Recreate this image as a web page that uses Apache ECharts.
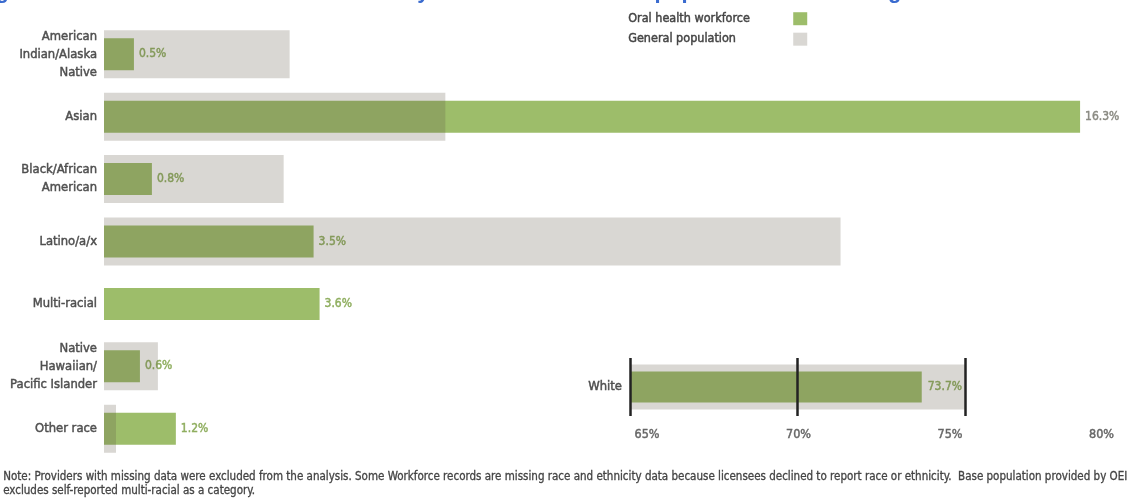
<!DOCTYPE html>
<html>
<head>
<meta charset="utf-8">
<script src="https://cdn.jsdelivr.net/npm/echarts@6/dist/echarts.min.js"></script>
<style>
  html, body { margin: 0; padding: 0; background: #fff; }
  #chart { width: 1133px; height: 502px; }
</style>
</head>
<body>
<div id="chart"></div>
<script>
// Race groups (top to bottom) and shares in percent
const categories = [
  'American\nIndian/Alaska\nNative',
  'Asian',
  'Black/African\nAmerican',
  'Latino/a/x',
  'Multi-racial',
  'Native\nHawaiian/\nPacific Islander',
  'Other race'
];
const workforce = [0.5, 16.3, 0.8, 3.5, 3.6, 0.6, 1.2];
const population = [3.1, 5.7, 3.0, 12.3, 0, 0.9, 0.2];

// White is shown on its own zoomed scale
const whiteCategory = ['White'];
const whiteWorkforce = [73.7];
const whitePopulation = [75.0];
const whiteTicks = [65, 70, 75, 80];
const whiteGuides = [65, 70, 75];

const titleText = "Figure 5. Licensed oral health workforce by race relative to state population across Oregon";
const noteText = 'Note: Providers with missing data were excluded from the analysis. Some Workforce records are missing race and ethnicity data because licensees declined to report race or ethnicity.  Base population provided by OEI\nexcludes self-reported multi-racial as a category.';

const GREEN = '#9dbd6a';
const GREEN_TEXT = '#8fae5f';
const GRAY_OVER = 'rgba(95,88,72,0.24)';
const NARROW = '"Liberation Sans Narrow", "DejaVu Sans Condensed", sans-serif';

// a thin outline in the text colour gives the narrow face a medium weight
const medium = (color, size) => ({
  fontFamily: NARROW, fontSize: size, color: color,
  textBorderColor: color, textBorderWidth: 0.45
});

const chart = echarts.init(document.getElementById('chart'));

const pct = v => v.toFixed(1) + '%';

chart.setOption({
  animation: false,
  backgroundColor: '#fff',
  title: {
    text: titleText,
    left: -24,
    top: -19,
    padding: 0,
    textStyle: { fontFamily: '"Liberation Sans", Arial, sans-serif', fontSize: 22, fontWeight: 'bold', color: '#3a6bcf' }
  },
  legend: {
    data: ['Oral health workforce', 'General population'],
    orient: 'vertical',
    left: 628,
    top: 12,
    align: 'right',
    icon: 'rect',
    itemWidth: 14,
    itemHeight: 13,
    itemGap: 7,
    padding: 0,
    selectedMode: false,
    formatter: '{n|{name}}',
    textStyle: Object.assign(medium('#444', 12.5), {
      rich: { n: Object.assign(medium('#444', 12.5), { width: 160, align: 'left' }) }
    })
  },
  graphic: [{
    type: 'text',
    left: 3,
    top: 470,
    style: {
      text: noteText,
      font: '11.5px ' + NARROW,
      fill: '#444',
      stroke: '#444',
      lineWidth: 0.3,
      lineHeight: 14
    }
  }],
  grid: [
    { left: 104, right: 11, top: 23, height: 437 },
    { left: 630, right: 0, top: 358, height: 58 }
  ],
  xAxis: [
    { gridIndex: 0, type: 'value', min: 0, max: 17, show: false },
    { gridIndex: 1, type: 'value', min: 65, max: 80, position: 'top', show: false },
    {
      gridIndex: 1, type: 'value', min: 64.44, max: 81.04, position: 'bottom',
      axisLine: { show: false }, axisTick: { show: false }, splitLine: { show: false },
      axisLabel: Object.assign(medium('#666', 12.5), {
        customValues: whiteTicks,
        formatter: v => v + '%',
        margin: 12
      })
    }
  ],
  yAxis: [
    {
      gridIndex: 0, type: 'category', data: categories, inverse: true,
      axisLine: { show: false }, axisTick: { show: false },
      axisLabel: Object.assign(medium('#4f4f4f', 12.9), { margin: 7, lineHeight: 18, align: 'right' })
    },
    { gridIndex: 0, type: 'category', data: categories, inverse: true, show: false },
    {
      gridIndex: 1, type: 'category', data: whiteCategory,
      axisLine: { show: false }, axisTick: { show: false },
      axisLabel: Object.assign(medium('#4f4f4f', 12.9), { margin: 8 })
    },
    { gridIndex: 1, type: 'category', data: whiteCategory, show: false }
  ],
  series: [
    {
      name: 'Oral health workforce', type: 'bar', xAxisIndex: 0, yAxisIndex: 1,
      data: workforce.map((v, i) => i === 1
        ? { value: v, label: { color: '#8a8a82', textBorderColor: '#8a8a82' } }
        : v),
      barWidth: 32, z: 2,
      itemStyle: { color: GREEN },
      label: Object.assign(medium(GREEN_TEXT, 12), { show: true, position: 'right', distance: 5, formatter: p => pct(p.value) })
    },
    {
      name: 'General population', type: 'bar', xAxisIndex: 0, yAxisIndex: 0,
      data: population, barWidth: 48, z: 3,
      itemStyle: { color: GRAY_OVER }
    },
    {
      name: 'Oral health workforce', type: 'bar', xAxisIndex: 1, yAxisIndex: 3,
      data: whiteWorkforce, barWidth: 31, z: 2,
      itemStyle: { color: GREEN },
      label: Object.assign(medium(GREEN_TEXT, 12), { show: true, position: 'right', distance: 6, formatter: p => pct(p.value) })
    },
    {
      name: 'General population', type: 'bar', xAxisIndex: 1, yAxisIndex: 2,
      data: whitePopulation, barWidth: 45, z: 3,
      itemStyle: { color: GRAY_OVER },
      markLine: {
        silent: true, symbol: 'none', label: { show: false },
        lineStyle: { color: '#222', width: 2.5, type: 'solid' },
        data: whiteGuides.map(v => ({ xAxis: v }))
      }
    }
  ]
});
</script>
</body>
</html>
